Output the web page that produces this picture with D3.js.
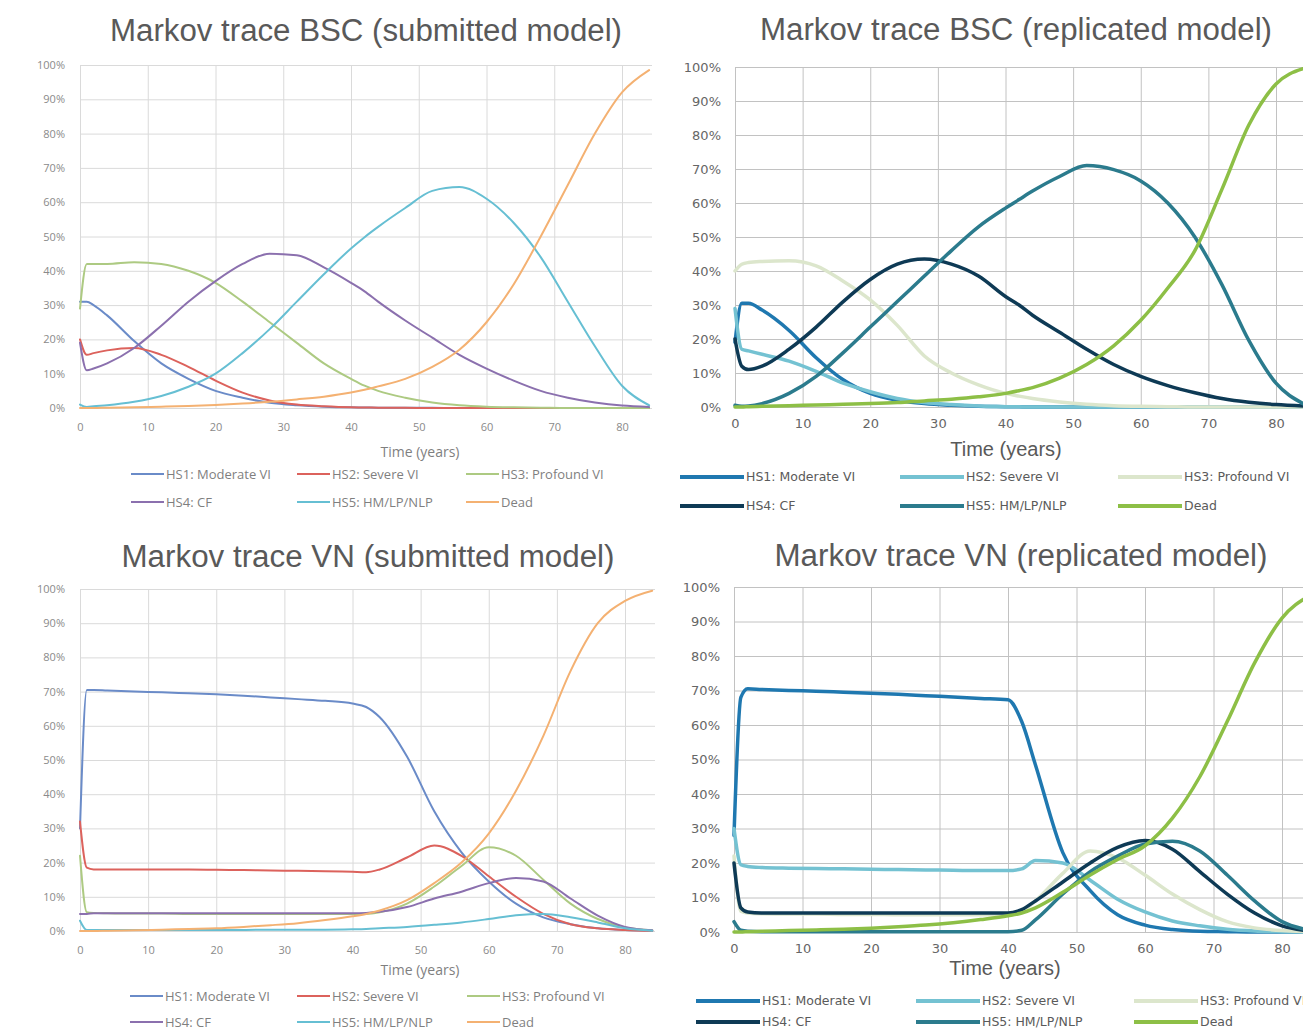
<!DOCTYPE html>
<html>
<head>
<meta charset="utf-8">
<script src="https://cdn.jsdelivr.net/npm/d3@7"></script>
<style>
  html, body { margin: 0; padding: 0; background: #fff; overflow: hidden; }
  svg { display: block; }
</style>
</head>
<body>
<svg id="chart"></svg>
<script>
var width = 1303, height = 1033;

var years = [0,1,2,4,8,12,16,20,24,28,32,36,40,42,44,48,52,56,60,64,68,72,76,80,84];
var states = ["HS1: Moderate VI","HS2: Severe VI","HS3: Profound VI","HS4: CF","HS5: HM/LP/NLP","Dead"];
var xTicks = [0,10,20,30,40,50,60,70,80];
var yTicks = [0,10,20,30,40,50,60,70,80,90,100];

// BSC, submitted model (% of cohort in each state)
var bscSubHS1 = [31,31,30,27,19.5,13,8.5,5,3,1.5,0.8,0.4,0.2,0.15,0.1,0.1,0.05,0,0,0,0,0,0,0,0];
var bscSubHS2 = [20,15.5,16,16.8,17.5,15.5,12,8,4.5,2.2,1,0.5,0.2,0.15,0.1,0.05,0,0,0,0,0,0,0,0,0];
var bscSubHS3 = [29,42,42,42,42.5,42,40,36.5,31,25,19,13,8.5,6.5,5,3,1.6,0.8,0.4,0.2,0.1,0,0,0,0];
var bscSubHS4 = [19,11,11.5,13,17.5,24,31,37,42,45,44.5,41,36.5,34,31,25.5,20.5,15.5,11.5,8,5,3,1.6,0.7,0.3];
var bscSubHS5 = [1,0.3,0.5,0.8,1.8,3.5,6.2,10,16,23,31,39,46.5,49.8,52.8,58.3,63.3,64.4,61,54,44,31,18,6.5,0.8];
var bscSubDead = [0,0,0,0.1,0.2,0.4,0.6,0.9,1.3,1.8,2.5,3.3,4.5,5.3,6.3,8.5,12,17,25,36,50,65,80,92,98.5];

// BSC, replicated model
var bscRepHS1 = [19,30.5,30.5,28.5,22.5,14.5,8,4,2,1,0.5,0.2,0.1,0.05,0,0,0,0,0,0,0,0,0,0,0];
var bscRepHS2 = [29,17,16.5,15.5,13.5,10.5,7,4.5,2.5,1.3,0.7,0.3,0.1,0.05,0,0,0,0,0,0,0,0,0,0,0];
var bscRepHS3 = [40,42,42.5,42.8,43,41.5,37,31.5,24,15,10,6.5,4,3.2,2.5,1.5,0.8,0.4,0.2,0.1,0,0,0,0,0];
var bscRepHS4 = [20,12,11,12,17,23.5,31,37.5,42,43.5,42,38.5,32.5,30,27,22,17,12.5,9,6.3,4.2,2.5,1.4,0.7,0.3];
var bscRepHS5 = [0.5,0.2,0.3,1,4,9,16,23.5,31,38.5,46,53,58.5,61,63.5,67.8,71,69.8,66.5,60,50,36,19.5,7,1];
var bscRepDead = [0,0,0.1,0.2,0.4,0.6,0.8,1,1.3,1.8,2.3,3,4,4.8,5.7,8.5,12.5,18,25.5,35,46,64,83,95,99.5];

// VN, submitted model
var vnSubHS1 = [30,70.5,70.5,70.3,70,69.8,69.5,69.2,68.8,68.3,67.8,67.3,66.5,65.5,62.5,51,35,23,14.5,8,4,2,0.8,0.3,0.1];
var vnSubHS2 = [32,18.5,18,18,18,18,18,17.9,17.8,17.7,17.6,17.5,17.3,17.2,18,21.5,25,22,16,10,5,2,0.8,0.3,0];
var vnSubHS3 = [22,5.5,5.3,5.2,5.1,5.1,5,5,5,5,5,5,5,5,5.5,8,13,19,24.5,22,15,8,3.5,1,0.2];
var vnSubHS4 = [5,5,5.2,5.2,5.2,5.2,5.2,5.2,5.2,5.2,5.2,5.2,5.2,5.3,5.6,7,9.5,11.5,14,15.5,14.5,9.5,4.5,1.2,0.2];
var vnSubHS5 = [3,0.3,0.3,0.3,0.3,0.3,0.3,0.3,0.3,0.4,0.4,0.4,0.5,0.6,0.8,1.2,1.8,2.5,3.5,4.6,5,4,2.5,0.8,0.1];
var vnSubDead = [0,0,0,0.1,0.2,0.4,0.6,0.8,1.2,1.7,2.3,3.2,4.3,5,6,9,14,20,28.5,41,57,76,90,96.5,99.5];

// VN, replicated model
var vnRepHS1 = [28,68,70.5,70.3,70,69.8,69.5,69.2,68.9,68.5,68.1,67.7,67.3,61,48.5,23,12,5,2,0.7,0.2,0.1,0,0,0];
var vnRepHS2 = [30,19.5,19,18.7,18.5,18.4,18.3,18.2,18.1,18,17.9,17.8,17.8,18.3,20.7,20,15,9.5,5.8,3.2,1.8,0.8,0.3,0.1,0];
var vnRepHS3 = [22,6,5.5,5.3,5.2,5.2,5.1,5.1,5,5,5,5,5,6,9,17,23.5,21.5,16.5,11,6.5,3,1.2,0.4,0.1];
var vnRepHS4 = [20,7,5.8,5.5,5.5,5.5,5.5,5.5,5.5,5.5,5.5,5.5,5.5,6.5,9,14.5,20,24.5,26.5,24,17.5,11,5.5,1.8,0.3];
var vnRepHS5 = [3,0.5,0.2,0.1,0.1,0.1,0.1,0.1,0.1,0.1,0.1,0.1,0.1,0.5,3.5,11,17.5,22,25.5,26.3,23.5,16.5,9,3,0.5];
var vnRepDead = [0,0,0.1,0.2,0.4,0.6,0.8,1.1,1.5,2,2.7,3.6,4.7,5.5,7,11.5,16.5,21,25,33,45,61,78,91,97.5];

var submittedColors = ["#6a8bc8","#dc625c","#adca82","#8b70ae","#66bfd3","#f4b172"];
var replicatedColors = ["#1f78b0","#74c2d2","#dce6cc","#0e3a55","#2b7b8d","#8dbf46"];

var svg = d3.select("#chart").attr("width", width).attr("height", height);

// Excel-look (submitted) vs. replicated look
var looks = {
  submitted: { grid: "#dadada", tickFont: "Open Sans", tickSize: 11, tickColor: "#8a8a8a",
               labelFont: "Open Sans", labelSize: 14, labelColor: "#7f7f7f",
               legendFont: "Open Sans", legendSize: 13, legendColor: "#7f7f7f",
               lineWidth: 2, legendLineWidth: 2, legendLen: 33, colors: submittedColors },
  replicated: { grid: "#c2c2c2", tickFont: "DejaVu Sans", tickSize: 13, tickColor: "#666",
               labelFont: "Liberation Sans", labelSize: 20, labelColor: "#595959",
               legendFont: "DejaVu Sans", legendSize: 12.5, legendColor: "#5a5a5a",
               lineWidth: 3.5, legendLineWidth: 4, legendLen: 64, colors: replicatedColors }
};

var panels = [
  { title: "Markov trace BSC (submitted model)", tx: 366, ty: 41, tw: 512, look: looks.submitted,
    x0: 80, x80: 622, xEnd: 652, y0: 408, y100: 65, xPad: 15, yPad: 15, timeX: 420, timeY: 457,
    cols: [131, 297, 466], rows: [474, 502],
    series: [bscSubHS1, bscSubHS2, bscSubHS3, bscSubHS4, bscSubHS5, bscSubDead] },
  { title: "Markov trace BSC (replicated model)", tx: 1016, ty: 40, tw: 512, look: looks.replicated,
    x0: 735, x80: 1276, xEnd: 1303, y0: 407, y100: 67, xPad: 12, yPad: 14, timeX: 1006, timeY: 456,
    cols: [680, 900, 1118], rows: [477, 506],
    series: [bscRepHS1, bscRepHS2, bscRepHS3, bscRepHS4, bscRepHS5, bscRepDead] },
  { title: "Markov trace VN (submitted model)", tx: 368, ty: 567, tw: 493, look: looks.submitted,
    x0: 80, x80: 625, xEnd: 655, y0: 931, y100: 589, xPad: 15, yPad: 15, timeX: 420, timeY: 975,
    cols: [130, 297, 467], rows: [996, 1022],
    series: [vnSubHS1, vnSubHS2, vnSubHS3, vnSubHS4, vnSubHS5, vnSubDead] },
  { title: "Markov trace VN (replicated model)", tx: 1021, ty: 566, tw: 493, look: looks.replicated,
    x0: 734, x80: 1282, xEnd: 1303, y0: 932, y100: 587, xPad: 12, yPad: 14, timeX: 1005, timeY: 975,
    cols: [696, 916, 1134], rows: [1001, 1022],
    series: [vnRepHS1, vnRepHS2, vnRepHS3, vnRepHS4, vnRepHS5, vnRepDead] }
];

function drawPanel(p) {
  var L = p.look;
  var g = svg.append("g");
  var x = d3.scaleLinear().domain([0, 80]).range([p.x0, p.x80]);
  var y = d3.scaleLinear().domain([0, 100]).range([p.y0, p.y100]);

  // y axis + horizontal gridlines
  var yAxis = g.append("g")
    .attr("transform", "translate(" + p.x0 + ",0)")
    .call(d3.axisLeft(y).tickValues(yTicks).tickFormat(d => d + "%")
      .tickSize(-(p.xEnd - p.x0)).tickPadding(p.yPad));
  yAxis.select(".domain").remove();
  yAxis.selectAll("line").attr("stroke", L.grid);
  yAxis.selectAll("text").attr("fill", L.tickColor)
    .style("font-family", L.tickFont).style("font-size", L.tickSize + "px");

  // x axis + vertical gridlines
  var xAxis = g.append("g")
    .attr("transform", "translate(0," + p.y0 + ")")
    .call(d3.axisBottom(x).tickValues(xTicks)
      .tickSize(-(p.y0 - p.y100)).tickPadding(p.xPad));
  xAxis.select(".domain").remove();
  xAxis.selectAll("line").attr("stroke", L.grid);
  xAxis.selectAll("text").attr("fill", L.tickColor)
    .style("font-family", L.tickFont).style("font-size", L.tickSize + "px");

  // lines
  var line = d3.line()
    .x((d, i) => x(years[i]))
    .y(d => y(d))
    .curve(d3.curveMonotoneX);

  g.selectAll(".trace")
    .data(p.series)
    .enter()
    .append("path")
    .attr("class", "trace")
    .attr("d", line)
    .attr("fill", "none")
    .attr("stroke", (d, i) => L.colors[i])
    .attr("stroke-width", L.lineWidth)
    .attr("stroke-linejoin", "round")
    .attr("stroke-linecap", "round");

  // title
  g.append("text")
    .attr("x", p.tx).attr("y", p.ty)
    .attr("text-anchor", "middle")
    .attr("textLength", p.tw).attr("lengthAdjust", "spacingAndGlyphs")
    .style("font-family", "Liberation Sans").style("font-size", "31px")
    .attr("fill", "#595959")
    .text(p.title);

  // axis title
  g.append("text")
    .attr("x", p.timeX).attr("y", p.timeY)
    .attr("text-anchor", "middle")
    .style("font-family", L.labelFont).style("font-size", L.labelSize + "px")
    .attr("fill", L.labelColor)
    .text("Time (years)");

  // legend
  var legend = g.selectAll(".legend")
    .data(states)
    .enter()
    .append("g")
    .attr("transform", (d, i) => "translate(" + p.cols[i % 3] + "," + p.rows[Math.floor(i / 3)] + ")");

  legend.append("line")
    .attr("x1", 0).attr("x2", L.legendLen)
    .attr("stroke", (d, i) => L.colors[i])
    .attr("stroke-width", L.legendLineWidth);

  legend.append("text")
    .attr("x", L.legendLen + 2)
    .attr("dy", "0.35em")
    .style("font-family", L.legendFont).style("font-size", L.legendSize + "px")
    .attr("fill", L.legendColor)
    .text(d => d);
}

panels.forEach(drawPanel);
</script>
</body>
</html>
